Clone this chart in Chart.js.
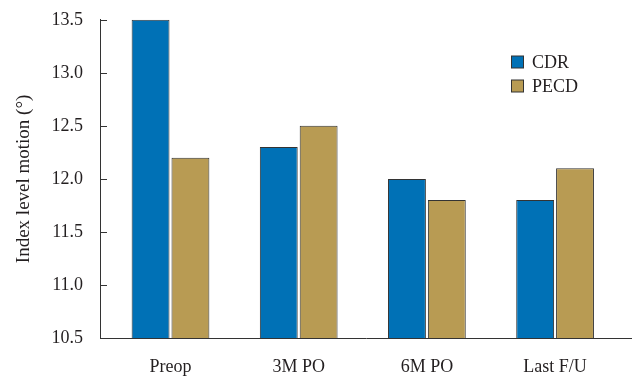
<!DOCTYPE html>
<html>
<head>
<meta charset="utf-8">
<script src="https://cdn.jsdelivr.net/npm/chart.js@4"></script>
<style>
  html, body { margin: 0; padding: 0; background: #fff; }
  #wrap { width: 632px; height: 378px; }
</style>
</head>
<body>
<div id="wrap"><canvas id="chart" width="632" height="378"></canvas></div>
<script>
const categories = ['Preop', '3M PO', '6M PO', 'Last F/U'];
const cdrValues = [13.5, 12.3, 12.0, 11.8];
const pecdValues = [12.2, 12.5, 11.8, 12.1];
const yTicks = [10.5, 11.0, 11.5, 12.0, 12.5, 13.0, 13.5];

const serif = '"Liberation Serif", "DejaVu Serif", serif';
const axisColor = '#333333';

// inward tick marks on the y axis
const innerTicks = {
    id: 'innerTicks',
    afterDraw(chart) {
        const ctx = chart.ctx;
        const y = chart.scales.y;
        ctx.save();
        ctx.strokeStyle = axisColor;
        ctx.lineWidth = 1;
        yTicks.forEach(v => {
            const py = Math.round(y.getPixelForValue(v)) + 0.5;
            ctx.beginPath();
            ctx.moveTo(y.right, py);
            ctx.lineTo(y.right + 7, py);
            ctx.stroke();
        });
        ctx.restore();
    }
};

// legend drawn inside the plot area, top right
const boxLegend = {
    id: 'boxLegend',
    afterDraw(chart) {
        const ctx = chart.ctx;
        ctx.save();
        ctx.font = '18px ' + serif;
        ctx.textBaseline = 'middle';
        chart.data.datasets.forEach((ds, i) => {
            const cy = 62 + i * 24;
            ctx.fillStyle = ds.backgroundColor;
            ctx.fillRect(511.5, cy - 6, 12, 12);
            ctx.strokeStyle = axisColor;
            ctx.strokeRect(511.5, cy - 6, 12, 12);
            ctx.fillStyle = '#231f20';
            ctx.fillText(ds.label, 532, cy + 1);
        });
        ctx.restore();
    }
};

new Chart(document.getElementById('chart').getContext('2d'), {
    type: 'bar',
    data: {
        datasets: [
            {
                label: 'CDR',
                data: cdrValues.map((v, i) => ({ x: i, y: v })),
                backgroundColor: '#0071b6',
                borderColor: axisColor,
                borderWidth: 1,
                borderSkipped: false
            },
            {
                label: 'PECD',
                data: pecdValues.map((v, i) => ({ x: i, y: v })),
                backgroundColor: '#b89b53',
                borderColor: axisColor,
                borderWidth: 1,
                borderSkipped: false
            }
        ]
    },
    options: {
        responsive: false,
        animation: false,
        categoryPercentage: 0.622,
        barPercentage: 0.95,
        layout: { padding: { top: 0, right: 0, left: 0, bottom: 0 } },
        plugins: {
            legend: { display: false },
            tooltip: { enabled: false }
        },
        scales: {
            x: {
                type: 'linear',
                offset: false,
                min: -0.55,
                max: 3.6,
                afterBuildTicks: s => { s.ticks = categories.map((c, i) => ({ value: i })); },
                afterFit: s => { s.height = 40; },
                grid: { display: false },
                border: { display: true, color: axisColor, width: 1 },
                ticks: {
                    color: '#231f20',
                    font: { family: serif, size: 18 },
                    padding: 10,
                    maxRotation: 0,
                    autoSkip: false,
                    callback: v => categories[v]
                }
            },
            y: {
                min: 10.5,
                max: 13.5,
                afterBuildTicks: s => { s.ticks = yTicks.map(v => ({ value: v })); },
                afterFit: s => { s.width = 100; },
                grid: { display: false },
                border: { display: true, color: axisColor, width: 1 },
                ticks: {
                    color: '#231f20',
                    font: { family: serif, size: 18 },
                    padding: 9,
                    callback: v => v.toFixed(1)
                },
                title: {
                    display: true,
                    text: 'Index level motion (°)',
                    color: '#231f20',
                    font: { family: serif, size: 19 },
                    padding: { top: 13, bottom: 0 }
                }
            }
        }
    },
    plugins: [innerTicks, boxLegend]
});
</script>
</body>
</html>
